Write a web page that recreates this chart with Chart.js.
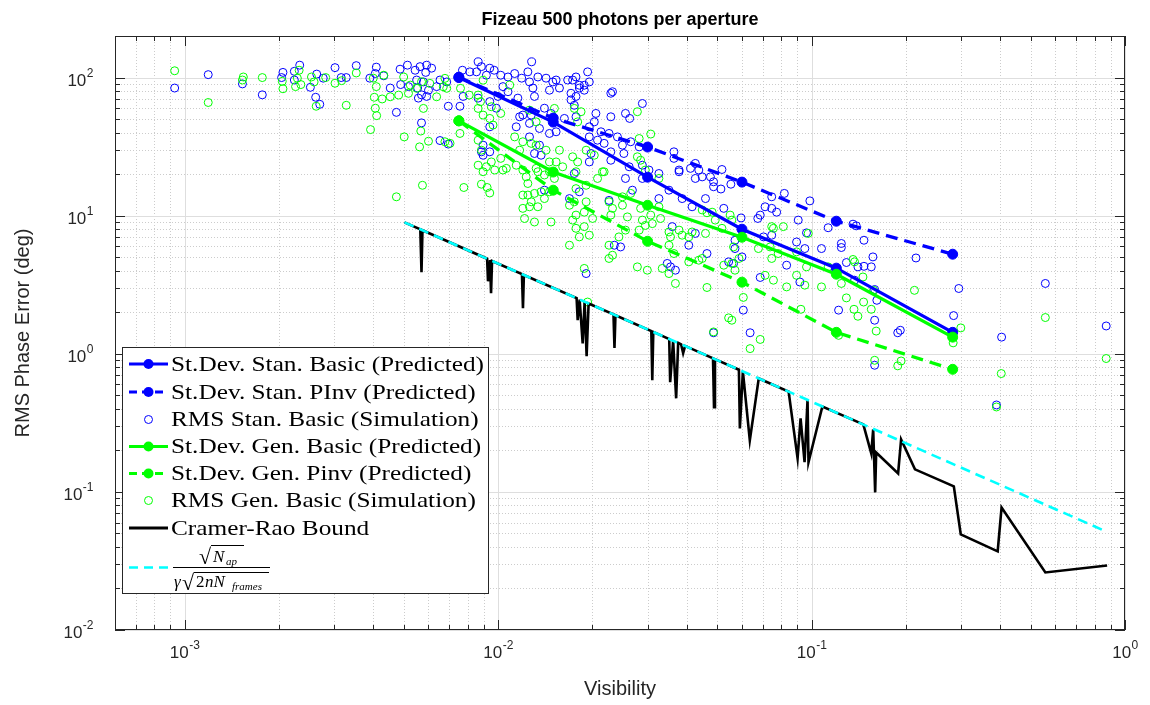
<!DOCTYPE html>
<html><head><meta charset="utf-8">
<script src="https://cdn.jsdelivr.net/npm/chart.js@4.4.1/dist/chart.umd.min.js"></script>
<style>html,body{margin:0;padding:0;background:#fff;}#wrap{width:1150px;height:705px;}</style>
</head><body><div id="wrap"><canvas id="c" width="1150" height="705"></canvas></div>
<script>
// ---------- data ----------
const XMIN = 6.2e-4, XMAX = 1, YMIN = 0.01, YMAX = 200;
const titleText = 'Fizeau 500 photons per aperture';
const xLabel = 'Visibility';
const yLabel = 'RMS Phase Error (deg)';
const xTickExps = [-3, -2, -1, 0];
const yTickExps = [-2, -1, 0, 1, 2];

const predX = [0.0075, 0.015, 0.03, 0.06, 0.12, 0.282];
const stanBasicPred = [100, 47.6, 19.0, 7.98, 4.17, 1.43];
const stanPinvPred = [100.7, 50.9, 31.4, 17.5, 9.12, 5.26];
const genBasicPred = [48.6, 20.7, 11.9, 6.98, 3.77, 1.32];
const genPinvPred = [48.6, 15.3, 6.53, 3.30, 1.43, 0.772];

const stanSim = [
[0.00093,84],[0.00119,105],[0.00153,90],[0.00177,75],[0.00206,109],[0.00204,100],[0.00224,111],[0.00233,123],[0.00224,96],[0.00252,85],[0.00264,106],[0.00262,72],[0.0027,64],[0.00277,99],[0.00302,118],[0.00316,100],[0.00328,100],[0.00353,122],[0.0039,99],[0.00409,119],[0.00406,107],[0.00432,103],
[0.00453,84],[0.00487,115],[0.00514,123],[0.00544,113],[0.00564,120],[0.00592,123],[0.00588,109],[0.00614,117],[0.0055,96],[0.00578,93],[0.00554,84],[0.00489,89],[0.00518,86],[0.006,81],[0.0057,75],[0.00557,71],[0.00592,73],[0.00637,86],[0.00653,96],[0.00686,93],[0.00694,62],[0.00474,56],[0.0057,47],[0.00653,35],[0.00694,33],[0.00756,62],[0.00774,73],[0.0077,113],[0.00813,110],[0.00864,130],[0.00885,120],[0.00854,110],[0.00941,117],[0.00918,104],[0.00972,113],
[0.0102,104],[0.01076,101],[0.0113,107],[0.0119,99],[0.01245,110],[0.0128,130],[0.0134,101],[0.0126,93],[0.01076,79],[0.01037,86],[0.01157,71],[0.01292,84],[0.01307,73],[0.00864,71],[0.00941,67],[0.01,73],[0.00988,60],[0.01172,52],[0.012,53.5],[0.01276,53.5],[0.0126,46.6],[0.01143,44],[0.00941,44],[0.00896,32.4],[0.00885,29],[0.00896,27.4],[0.00941,29],[0.0126,37.2],[0.01356,42.8],[0.01356,32.4],[0.01307,28.2],[0.01372,27.4],
[0.01423,99],[0.01495,93],[0.01532,96],[0.01459,81],[0.0157,84],[0.01668,96],[0.0173,96],[0.01773,101],[0.01817,88],[0.01884,88],[0.01884,81],[0.01817,84],[0.01955,93],[0.01931,110],[0.01709,77],[0.01773,73],[0.01709,69],[0.01751,63],[0.0229,77],[0.02318,79],[0.01406,60],[0.01476,55],[0.01459,39.4],[0.01532,40.5],[0.01628,50.6],[0.01773,52],[0.02052,55],[0.02028,47.8],[0.01955,44],[0.0229,52],[0.0255,55],[0.0263,50.6],[0.02887,64.9],[0.0213,40.5],[0.0226,39.4],[0.02404,37.2],[0.01955,37.2],[0.02077,35.2],[0.0218,33.4],[0.02494,32.4],[0.0265,34.3],[0.0282,31.5],[0.0229,29],[0.0252,28.2],[0.0198,28.2],[0.01955,24.5],[0.0229,25.2],[0.0262,22.6],[0.02887,23.2],[0.0364,29],[0.0364,26],[0.0326,20.2],[0.0378,21.4],[0.0426,23.9],[0.0411,22],[0.0437,21.4],
[0.01751,20.2],[0.01817,14.9],[0.0169,13.3],[0.01406,15.3],[0.0255,18.6],[0.02683,15.3],[0.02887,18.6],[0.0303,21.4],[0.0326,13.3],[0.0351,15.3],[0.0378,20.8],[0.0426,18.6],[0.03867,13.3],[0.0416,11.6],[0.03594,8.33],[0.0426,7.44],[0.0406,6.11],[0.0235,6.11],[0.0246,5.94],[0.0191,3.81],[0.03466,4.51],[0.0355,4.26],[0.0368,4.03],[0.0226,12.9],
[0.0518,21.6],[0.0476,19.1],[0.0487,17.6],[0.0487,16.2],[0.0514,15.6],[0.0553,16.9],[0.0459,13.3],[0.0525,11.3],[0.0448,19.1],[0.0596,9.63],[0.0686,10.1],[0.0674,9.55],[0.0711,11.6],[0.07465,13.7],[0.07465,11.3],[0.0774,10.6],[0.0819,14.5],[0.0988,12.8],[0.0907,9.29],[0.113,8.18],[0.1356,8.68],[0.1389,8.44],[0.147,6.64],[0.0964,7.51],[0.07465,7.22],[0.0703,7.02],[0.0896,6.45],[0.0952,5.78],[0.1076,5.78],[0.1245,6.29],[0.1245,5.88],[0.057,6.64],[0.057,5.78],[0.0464,5.32],[0.0544,4.63],[0.0564,4.51],[0.06,5.03],[0.0833,4.38],[0.1292,4.58],[0.1406,4.26],[0.147,4.3],[0.1551,4.26],[0.157,5.03],[0.2154,4.94],[0.0686,3.57],[0.0918,3.31],[0.1372,3.41],[0.295,2.97],
[0.0606,2.07],[0.0637,1.42],[0.0487,1.42],[0.122,2.07],[0.159,2.92],[0.1616,2.44],[0.159,1.75],[0.1884,1.42],[0.192,1.48],[0.284,1.89],[0.404,1.32],[0.389,0.426],[0.557,3.23],[0.871,1.59],[0.159,0.826]
];

const genSim = [
[0.00093,112],[0.00119,66],[0.00154,101],[0.00153,96],[0.00177,100],[0.00205,94],[0.00206,83],[0.00226,86],[0.00235,89],[0.00229,99],[0.00232,113],[0.00254,101],[0.00259,93],[0.00263,62],[0.00282,100],[0.00302,91],[0.00317,95],[0.00328,63],[0.00353,108],[0.00392,42],[0.00409,86],[0.00403,72],[0.00406,60],[0.0041,53],[0.00427,70],[0.004,99],
[0.00432,104],[0.00453,72.6],[0.00482,74.7],[0.00518,76.9],[0.005,101],[0.00525,88.2],[0.0055,83.6],[0.0057,93.3],[0.00606,90.8],[0.00637,72.6],[0.00677,98.7],[0.00686,83.6],[0.00669,85.8],[0.00578,59.8],[0.00502,37.2],[0.00567,41],[0.006,34.6],[0.00562,31.5],[0.00677,34.3],[0.00703,33.4],[0.00759,83.6],[0.00756,39.4],[0.00809,74.7],[0.00896,95.7],[0.00864,74.7],[0.00879,66.9],[0.00864,59.8],[0.00952,61.5],[0.00896,53.5],[0.00941,50.6],[0.00964,45.3],[0.0102,55],[0.0109,88.2],[0.0113,37.2],[0.012,34.3],[0.01276,33.4],[0.01323,32.4],[0.01172,29.8],[0.0102,26],[0.00952,24.5],[0.00864,23.2],[0.00976,21.4],[0.01143,23.2],[0.012,21.4],[0.01323,22],[0.00885,29.8],[0.00864,35.2],[0.0126,58.1],[0.01323,47.8],
[0.01513,59.8],[0.01751,59.8],[0.0184,56.6],[0.01795,47.8],[0.02783,56.6],[0.0282,36.2],[0.0307,39],[0.0191,29.8],[0.02028,27.4],[0.0173,26.7],[0.01795,24.5],[0.01459,24.5],[0.01532,24.5],[0.01423,29.8],[0.0157,29.8],[0.02783,26.7],[0.0285,25.2],[0.0295,21.4],[0.0218,20.8],
[0.00474,13.7],[0.00574,16.6],[0.00778,16],[0.00885,16.9],[0.00923,16],[0.00941,14.6],[0.00896,20.8],[0.00918,22.6],[0.01063,22],[0.01037,21.4],[0.012,14.1],[0.01245,14.1],[0.01307,14.5],[0.01372,14.9],[0.012,11.3],[0.0126,11.6],[0.0134,11.6],[0.01215,9.54],[0.01307,9.0],[0.0123,19.1],[0.01245,17.1],[0.01276,12.6],[0.0134,20.8],
[0.01406,19.7],[0.01459,20.8],[0.01608,22.6],[0.01773,20.8],[0.02154,20.8],[0.02077,18.6],[0.0191,16.6],[0.01773,15.7],[0.01406,13.3],[0.01751,12.6],[0.0191,12.6],[0.0169,11.9],[0.01884,10.6],[0.01773,10.1],[0.0173,9.29],[0.02003,9.55],[0.02318,11.3],[0.0226,12.6],[0.0229,10.1],[0.02494,11.9],[0.02587,9.8],[0.0285,11.3],[0.02887,9.29],[0.0307,10.1],[0.0326,11.6],[0.033,9.54],[0.03106,8.76],[0.0295,8.5],[0.0282,7.86],[0.0255,7.86],[0.0243,7.02],[0.01884,8.33],[0.01773,8.1],[0.01955,7.22],[0.01817,7.02],[0.01476,9.0],[0.0169,6.11],[0.0226,6.11],[0.02318,5.17],[0.0226,4.9],[0.0351,7.62],[0.0355,7.02],[0.0351,6.11],[0.0378,7.86],[0.03867,7.22],[0.0406,7.02],[0.0416,7.62],[0.0406,4.63],[0.0364,5.32],[0.02783,4.26],[0.02994,4.03],[0.03341,4.15],[0.0351,3.81],[0.0368,3.23],[0.01884,4.15],[0.0437,4.76],[0.02494,13.7],[0.0265,14.5],[0.0326,18.6],[0.01459,14.9],[0.01513,18.6],[0.01931,2.37],
[0.0448,11],[0.0464,10.5],[0.0482,10.6],[0.0493,9.29],[0.055,10.1],[0.0557,9.29],[0.0459,7.44],[0.0518,8.1],[0.07465,8.33],[0.0756,8.1],[0.0813,8.33],[0.0976,7.44],[0.0564,5.94],[0.0677,5.78],[0.0738,5.94],[0.0587,4.9],[0.0525,4.38],[0.0557,4.51],[0.057,4.03],[0.0448,4.9],[0.07465,4.9],[0.0783,5.32],[0.0896,5.47],[0.0964,4.26],[0.113,4.26],[0.1356,4.82],[0.1372,4.63],[0.1459,3.6],[0.0711,3.7],[0.0756,3.41],[0.0896,3.7],[0.0952,3.14],[0.0833,3.05],[0.1076,3.05],[0.1245,3.23],[0.0464,3.02],[0.213,2.88],
[0.0606,2.56],[0.0544,1.82],[0.0557,1.75],[0.0487,1.44],[0.0637,1.09],[0.0686,1.27],[0.0925,2.1],[0.1292,2.54],[0.1366,2.1],[0.1406,1.87],[0.1466,2.37],[0.1551,2.1],[0.1577,2.88],[0.1608,1.46],[0.122,1.36],[0.159,0.897],[0.1931,0.887],[0.1884,0.818],[0.283,1.2],[0.2994,1.54],[0.403,0.719],[0.389,0.412],[0.557,1.83],[0.871,0.924]
];

const crbX = [0.00503,0.00565,0.00570,0.00574,0.00923,0.00929,0.00943,0.00950,0.00957,0.01192,0.01201,0.01209,0.01781,0.01795,0.01821,0.01862,0.01889,0.01917,0.01945,0.02335,0.02352,0.02369,0.03083,0.03105,0.03128,0.03516,0.03541,0.03619,0.03700,0.03755,0.03838,0.03895,0.03952,0.04850,0.04886,0.04921,0.05866,0.05908,0.06040,0.06356,0.06787,0.08453,0.09028,0.09228,0.09502,0.09712,0.09781,0.1083,0.1463,0.1551,0.1573,0.1596,0.1608,0.1889,0.1931,0.2138,0.2844,0.2993,0.3925,0.4039,0.5572,0.8768];
const crbY = [8.95,7.96,3.90,7.84,4.88,3.35,4.77,2.74,4.70,3.78,2.14,3.72,2.53,1.75,2.47,1.19,2.38,0.959,2.31,1.93,1.10,1.90,1.46,0.643,1.44,1.28,0.622,1.24,0.476,1.20,1.17,1.01,1.14,0.928,0.410,0.914,0.767,0.288,0.745,0.236,0.663,0.532,0.175,0.341,0.164,0.463,0.164,0.415,0.308,0.190,0.284,0.0992,0.193,0.136,0.240,0.1456,0.1096,0.0492,0.0371,0.0772,0.0261,0.0293];
const boundX = [0.00503, 0.8768];
const boundY = [8.95, 0.0513];

const legendLabels = ['St.Dev. Stan. Basic (Predicted)','St.Dev. Stan. PInv (Predicted)','RMS Stan. Basic (Simulation)','St.Dev. Gen. Basic (Predicted)','St.Dev. Gen. Pinv (Predicted)','RMS Gen. Basic (Simulation)','Cramer-Rao Bound'];

// ---------- colours ----------
const BLUE = '#0000ff', GREEN = '#00ff00', CYAN = '#00ffff', BLACK = '#000000', AX = '#262626';

const pairs = a => a.map(p => ({x: p[0], y: p[1]}));
const zipXY = (xs, ys) => xs.map((x, i) => ({x, y: ys[i]}));

function predDS(label, ys, color, dash, order) {
  return {label, data: zipXY(predX, ys), showLine: true, borderColor: color, backgroundColor: color,
    borderWidth: 3.3, borderDash: dash, pointRadius: 5, pointBackgroundColor: color, pointBorderColor: color,
    pointBorderWidth: 1, order};
}
function simDS(label, pts, color, order) {
  return {label, data: pairs(pts), showLine: false, borderColor: color, backgroundColor: 'rgba(0,0,0,0)',
    pointRadius: 4, pointBorderWidth: 1, pointBorderColor: color, pointBackgroundColor: 'rgba(0,0,0,0)', order};
}

const datasets = [
  predDS(legendLabels[0], stanBasicPred, BLUE, [], 5),
  predDS(legendLabels[1], stanPinvPred, BLUE, [12, 7], 4),
  simDS(legendLabels[2], stanSim, BLUE, 7),
  predDS(legendLabels[3], genBasicPred, GREEN, [], 3),
  predDS(legendLabels[4], genPinvPred, GREEN, [12, 7], 2),
  simDS(legendLabels[5], genSim, GREEN, 6),
  {label: legendLabels[6], data: zipXY(crbX, crbY), showLine: true, borderColor: BLACK, borderWidth: 2.6, pointRadius: 0, order: 1},
  {label: 'bound', data: zipXY(boundX, boundY), showLine: true, borderColor: CYAN, borderWidth: 2.6, borderDash: [10, 6], pointRadius: 0, order: 0}
];

// ---------- helpers ----------
function logTicks(min, max) {
  const major = [], minor = [];
  for (let e = Math.floor(Math.log10(min)); e <= Math.ceil(Math.log10(max)); e++) {
    for (let m = 1; m <= 9; m++) {
      const v = m * Math.pow(10, e);
      if (v < min * 0.9999 || v > max * 1.0001) continue;
      (m === 1 ? major : minor).push(v);
    }
  }
  return {major, minor};
}
const SANS = '"Liberation Sans", Arial, Helvetica, sans-serif';
const SERIF = '"Liberation Serif", "Times New Roman", serif';

function powLabelWidth(ctx, exp) {
  ctx.font = '17px ' + SANS; const w1 = ctx.measureText('10').width;
  ctx.font = '12px ' + SANS; const w2 = ctx.measureText(String(exp)).width;
  return [w1, w2];
}
function drawPow(ctx, exp, x, baseY) {
  const [w1, w2] = powLabelWidth(ctx, exp);
  ctx.textAlign = 'left'; ctx.textBaseline = 'alphabetic';
  ctx.font = '17px ' + SANS; ctx.fillText('10', x, baseY);
  ctx.font = '12px ' + SANS; ctx.fillText(String(exp), x + w1 + 0.5, baseY - 9);
  return w1 + w2;
}

const decor = {
  id: 'decor',
  beforeDatasetsDraw(chart) {
    const {ctx, chartArea: a, scales: {x, y}} = chart;
    const xt = logTicks(XMIN, XMAX), yt = logTicks(YMIN, YMAX);
    ctx.save();
    ctx.lineWidth = 1;
    ctx.strokeStyle = '#cccccc'; ctx.setLineDash([1, 2]);
    ctx.beginPath();
    xt.minor.forEach(v => { const p = Math.round(x.getPixelForValue(v)) + 0.5; ctx.moveTo(p, a.top); ctx.lineTo(p, a.bottom); });
    yt.minor.forEach(v => { const p = Math.round(y.getPixelForValue(v)) + 0.5; ctx.moveTo(a.left, p); ctx.lineTo(a.right, p); });
    ctx.stroke();
    ctx.setLineDash([]); ctx.strokeStyle = '#dedede';
    ctx.beginPath();
    xt.major.forEach(v => { const p = Math.round(x.getPixelForValue(v)) + 0.5; ctx.moveTo(p, a.top); ctx.lineTo(p, a.bottom); });
    yt.major.forEach(v => { const p = Math.round(y.getPixelForValue(v)) + 0.5; ctx.moveTo(a.left, p); ctx.lineTo(a.right, p); });
    ctx.stroke();
    ctx.restore();
  },
  afterDatasetsDraw(chart) {
    const {ctx, chartArea: a, scales: {x, y}} = chart;
    const xt = logTicks(XMIN, XMAX), yt = logTicks(YMIN, YMAX);
    ctx.save();
    ctx.strokeStyle = AX; ctx.lineWidth = 1; ctx.setLineDash([]);
    ctx.strokeRect(Math.round(a.left) + 0.5, Math.round(a.top) + 0.5, Math.round(a.right - a.left) - 1, Math.round(a.bottom - a.top) - 1);
    ctx.beginPath();
    const tick = (arr, len, axis) => arr.forEach(v => {
      if (axis === 'x') {
        const p = Math.round(x.getPixelForValue(v)) + 0.5;
        ctx.moveTo(p, a.bottom); ctx.lineTo(p, a.bottom - len);
        ctx.moveTo(p, a.top); ctx.lineTo(p, a.top + len);
      } else {
        const p = Math.round(y.getPixelForValue(v)) + 0.5;
        ctx.moveTo(a.left, p); ctx.lineTo(a.left + len, p);
        ctx.moveTo(a.right, p); ctx.lineTo(a.right - len, p);
      }
    });
    tick(xt.major, 10, 'x'); tick(xt.minor, 5, 'x');
    tick(yt.major, 10, 'y'); tick(yt.minor, 5, 'y');
    ctx.stroke();
    ctx.fillStyle = AX;
    xTickExps.forEach(e => {
      const px = x.getPixelForValue(Math.pow(10, e));
      const [w1, w2] = powLabelWidth(ctx, e);
      drawPow(ctx, e, px - (w1 + w2) / 2, a.bottom + 28);
    });
    yTickExps.forEach(e => {
      const py = y.getPixelForValue(Math.pow(10, e));
      const [w1, w2] = powLabelWidth(ctx, e);
      drawPow(ctx, e, a.left - 22 - (w1 + w2), py + 8);
    });
    ctx.fillStyle = '#000';
    ctx.textAlign = 'center'; ctx.textBaseline = 'alphabetic';
    ctx.font = 'bold 18px ' + SANS;
    ctx.fillText(titleText, (a.left + a.right) / 2, 25);
    ctx.fillStyle = AX;
    ctx.font = '20px ' + SANS;
    ctx.fillText(xLabel, (a.left + a.right) / 2, 695);
    ctx.save();
    ctx.translate(29, (a.top + a.bottom) / 2); ctx.rotate(-Math.PI / 2);
    ctx.fillText(yLabel, 0, 0);
    ctx.restore();
    drawLegend(ctx);
    ctx.restore();
  }
};

function drawLegend(ctx) {
  const L = 122.5, T = 347.5, R = 488.5, B = 593.5;
  ctx.save();
  ctx.fillStyle = '#fff'; ctx.fillRect(L, T, R - L, B - T);
  ctx.strokeStyle = AX; ctx.lineWidth = 1; ctx.strokeRect(L, T, R - L, B - T);
  const rows = [364, 392, 419.5, 446.5, 473.5, 500.5, 528];
  const styles = [
    {c: BLUE, dash: [], line: true, mk: 'fill'},
    {c: BLUE, dash: [8, 5], line: true, mk: 'fill'},
    {c: BLUE, line: false, mk: 'open'},
    {c: GREEN, dash: [], line: true, mk: 'fill'},
    {c: GREEN, dash: [8, 5], line: true, mk: 'fill'},
    {c: GREEN, line: false, mk: 'open'},
    {c: BLACK, dash: [], line: true, mk: null}
  ];
  const x0 = 129, x1 = 168, xm = 148.5;
  ctx.font = '21px ' + SERIF;
  const sx = 313 / ctx.measureText(legendLabels[0]).width;
  rows.forEach((ry, i) => {
    const s = styles[i];
    if (s.line) {
      ctx.strokeStyle = s.c; ctx.lineWidth = 3; ctx.setLineDash(s.dash);
      ctx.beginPath(); ctx.moveTo(x0, ry); ctx.lineTo(x1, ry); ctx.stroke(); ctx.setLineDash([]);
    }
    if (s.mk === 'fill') { ctx.fillStyle = s.c; ctx.beginPath(); ctx.arc(xm, ry, 5, 0, Math.PI * 2); ctx.fill(); }
    if (s.mk === 'open') { ctx.strokeStyle = s.c; ctx.lineWidth = 1; ctx.beginPath(); ctx.arc(xm, ry, 4, 0, Math.PI * 2); ctx.stroke(); }
    ctx.fillStyle = '#000'; ctx.textAlign = 'left'; ctx.textBaseline = 'middle';
    ctx.save(); ctx.translate(171, ry + 1); ctx.scale(sx, 1);
    ctx.font = '21px ' + SERIF; ctx.fillText(legendLabels[i], 0, 0);
    ctx.restore();
  });
  // formula entry
  const fy = 567.5;
  ctx.strokeStyle = CYAN; ctx.lineWidth = 2.6; ctx.setLineDash([9, 6]);
  ctx.beginPath(); ctx.moveTo(x0, fy); ctx.lineTo(x1, fy); ctx.stroke(); ctx.setLineDash([]);
  ctx.strokeStyle = '#000'; ctx.lineWidth = 1.2;
  ctx.beginPath(); ctx.moveTo(173, fy); ctx.lineTo(270, fy); ctx.stroke();
  ctx.fillStyle = '#000'; ctx.textBaseline = 'alphabetic'; ctx.textAlign = 'left';
  ctx.lineWidth = 1;
  // numerator sqrt(N_ap)
  ctx.font = '22px ' + SERIF; ctx.fillText('\u221A', 199, 564);
  ctx.beginPath(); ctx.moveTo(211, 545.5); ctx.lineTo(244, 545.5); ctx.stroke();
  ctx.font = 'italic 17px ' + SERIF; ctx.fillText('N', 213, 562);
  ctx.font = 'italic 11px ' + SERIF; ctx.fillText('ap', 226, 565);
  // denominator gamma sqrt(2 n N_frames)
  ctx.font = 'italic 17px ' + SERIF; ctx.fillText('\u03B3', 174, 587);
  ctx.font = '22px ' + SERIF; ctx.fillText('\u221A', 182, 590);
  ctx.beginPath(); ctx.moveTo(194, 572.5); ctx.lineTo(269, 572.5); ctx.stroke();
  ctx.font = '17px ' + SERIF; ctx.fillText('2', 196, 587);
  ctx.font = 'italic 17px ' + SERIF; ctx.fillText('nN', 205, 587);
  ctx.font = 'italic 11px ' + SERIF; ctx.fillText('frames', 232, 590);
  ctx.restore();
}

new Chart(document.getElementById('c'), {
  type: 'scatter',
  data: {datasets},
  options: {
    responsive: false, animation: false, devicePixelRatio: 1,
    layout: {padding: {left: 115, right: 25, top: 36, bottom: 75}},
    scales: {
      x: {type: 'logarithmic', min: XMIN, max: XMAX, display: false},
      y: {type: 'logarithmic', min: YMIN, max: YMAX, display: false}
    },
    plugins: {legend: {display: false}, tooltip: {enabled: false}},
    elements: {line: {tension: 0}}
  },
  plugins: [decor]
});
</script></body></html>
